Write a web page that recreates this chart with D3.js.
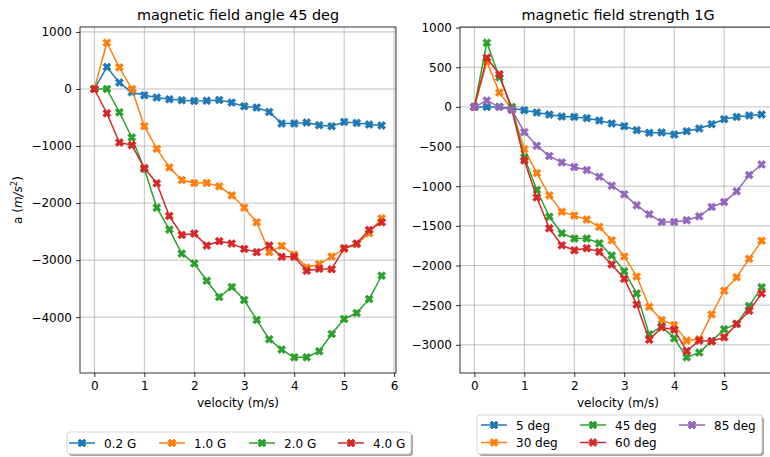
<!DOCTYPE html>
<html>
<head>
<meta charset="utf-8">
<script src="https://cdn.jsdelivr.net/npm/d3@7"></script>
<style>
  html, body { margin: 0; padding: 0; background: #fff; overflow: hidden; }
  svg { display: block; font-family: "DejaVu Sans", sans-serif; }
</style>
</head>
<body>
<svg id="chart" width="770" height="457"></svg>
<script>
// Sampled velocities (m/s)
const velocity = [0, 0.25, 0.5, 0.75, 1, 1.25, 1.5, 1.75, 2, 2.25, 2.5, 2.75,
                  3, 3.25, 3.5, 3.75, 4, 4.25, 4.5, 4.75, 5, 5.25, 5.5, 5.75];

// Acceleration at field angle 45 deg, by field strength
const field02G = [0, 385, 112, -58, -110, -151, -180, -198, -210, -204, -192, -239,
                  -302, -326, -402, -605, -605, -588, -634, -652, -577, -594, -623, -640];
const field10G = [0, 811, 379, 0, -652, -1049, -1375, -1596, -1649, -1649, -1707, -1864,
                  -2080, -2336, -2860, -2750, -2907, -3129, -3070, -2937, -2803, -2721, -2528, -2266];
const field20G = [0, 0, -408, -850, -1404, -2080, -2465, -2885, -3059, -3362, -3647, -3472,
                  -3700, -4049, -4388, -4568, -4703, -4703, -4598, -4294, -4032, -3927, -3682, -3274];
const field40G = [0, -425, -937, -984, -1386, -1654, -2226, -2558, -2535, -2745, -2668, -2710,
                  -2803, -2860, -2745, -2942, -2942, -3187, -3152, -3158, -2791, -2710, -2470, -2336];

// Acceleration at field strength 1G, by field angle
const angle5  = [0, 0, 0, -21, -42, -71, -97, -122, -126, -142, -172, -210,
                 -243, -293, -327, -323, -348, -306, -273, -218, -155, -126, -109, -97];
const angle30 = [0, 570, 180, -30, -532, -834, -1116, -1321, -1371, -1421, -1513, -1682,
                 -1887, -2138, -2520, -2688, -2751, -2947, -2931, -2616, -2318, -2147, -1916, -1689];
const angle45 = [0, 809, 373, 0, -638, -1048, -1385, -1594, -1660, -1660, -1720, -1874,
                 -2072, -2352, -2868, -2767, -2918, -3157, -3098, -2952, -2805, -2734, -2512, -2273];
const angle60 = [0, 620, 411, -38, -675, -1141, -1531, -1745, -1808, -1782, -1828, -1987,
                 -2168, -2491, -2935, -2780, -2809, -3078, -2947, -2956, -2906, -2738, -2570, -2352];
const angle85 = [0, 79, 0, -38, -318, -491, -620, -700, -759, -797, -880, -994,
                 -1103, -1241, -1355, -1451, -1451, -1430, -1380, -1262, -1200, -1065, -859, -726];

const leftLabels  = ["0.2 G", "1.0 G", "2.0 G", "4.0 G"];
const rightLabels = ["5 deg", "30 deg", "45 deg", "60 deg", "85 deg"];
const leftYTicks  = [-4000, -3000, -2000, -1000, 0, 1000];
const rightYTicks = [-3000, -2500, -2000, -1500, -1000, -500, 0, 500, 1000];
const leftXTicks  = [0, 1, 2, 3, 4, 5, 6];
const rightXTicks = [0, 1, 2, 3, 4, 5];

const palette = ["#1f77b4", "#ff7f0e", "#2ca02c", "#d62728", "#9467bd"];

const svg = d3.select("#chart");
const minus = s => String(s).replace("-", "\u2212");

// Filled "X" marker path, unit size centred at origin
const xMarkerPts = [[-0.25,-0.5],[0,-0.25],[0.25,-0.5],[0.5,-0.25],[0.25,0],[0.5,0.25],
                    [0.25,0.5],[0,0.25],[-0.25,0.5],[-0.5,0.25],[-0.25,0],[-0.5,-0.25]];
function xMarker(size) {
  return "M" + xMarkerPts.map(p => (p[0]*size).toFixed(2) + "," + (p[1]*size).toFixed(2)).join("L") + "Z";
}
const MARK = xMarker(8);

function padded(lo, hi) {
  const m = (hi - lo) * 0.05;
  return [lo - m, hi + m];
}

function panel(opts) {
  const { left, right, top, bottom, series, title, yTicks, xTicks, ylabel } = opts;
  const g = svg.append("g");
  const all = series.flat();
  const x = d3.scaleLinear().domain(padded(d3.min(velocity), d3.max(velocity))).range([left, right]);
  const y = d3.scaleLinear().domain(padded(d3.min(all), d3.max(all))).range([bottom, top]);

  // grid
  const grid = g.append("g").attr("stroke", "#b0b0b0").attr("stroke-width", 0.8);
  xTicks.forEach(t => grid.append("line").attr("x1", x(t)).attr("x2", x(t)).attr("y1", top).attr("y2", bottom));
  yTicks.forEach(t => grid.append("line").attr("x1", left).attr("x2", right).attr("y1", y(t)).attr("y2", y(t)));

  // series
  const line = d3.line().x((d, i) => x(velocity[i])).y(d => y(d));
  series.forEach((s, k) => {
    const c = palette[k];
    const sg = g.append("g");
    sg.append("path").attr("d", line(s)).attr("fill", "none").attr("stroke", c).attr("stroke-width", 1.5)
      .attr("stroke-linejoin", "round");
    sg.selectAll("path.m").data(s).enter().append("path").attr("class", "m")
      .attr("d", MARK)
      .attr("transform", (d, i) => `translate(${x(velocity[i])},${y(d)})`)
      .attr("fill", c).attr("stroke", c).attr("stroke-width", 0.8).attr("stroke-linejoin", "miter");
  });

  // axes
  const xAxis = d3.axisBottom(x).tickValues(xTicks).tickSize(4).tickPadding(4).tickFormat(d3.format("d"));
  const yAxis = d3.axisLeft(y).tickValues(yTicks).tickSize(4).tickPadding(4).tickFormat(d => minus(d));
  const xa = g.append("g").attr("transform", `translate(0,${bottom})`).call(xAxis);
  const ya = g.append("g").attr("transform", `translate(${left},0)`).call(yAxis);
  [xa, ya].forEach(a => {
    a.select(".domain").remove();
    a.selectAll("text").attr("font-size", 12).attr("fill", "#000").attr("font-family", "DejaVu Sans");
    a.selectAll("line").attr("stroke", "#000").attr("stroke-width", 0.8);
  });

  // frame
  g.append("rect").attr("x", left).attr("y", top).attr("width", right - left).attr("height", bottom - top)
    .attr("fill", "none").attr("stroke", "#000").attr("stroke-width", 0.8);

  // title and x label
  g.append("text").attr("x", (left + right) / 2).attr("y", 20).attr("text-anchor", "middle")
    .attr("font-size", 14.4).text(title);
  g.append("text").attr("x", (left + right) / 2).attr("y", 407).attr("text-anchor", "middle")
    .attr("font-size", 12).text("velocity (m/s)");

  if (ylabel) {
    const t = g.append("text").attr("transform", `translate(22,${(top + bottom) / 2}) rotate(-90)`)
      .attr("text-anchor", "middle").attr("font-size", 12);
    t.append("tspan").text("a (");
    t.append("tspan").attr("font-style", "italic").text("m/s");
    t.append("tspan").attr("font-size", 8.5).attr("dy", -5).text("2");
    t.append("tspan").attr("dy", 5).text(")");
  }
  return { x, y };
}

panel({ left: 80, right: 396, top: 27, bottom: 373,
        series: [field02G, field10G, field20G, field40G],
        title: "magnetic field angle 45 deg", yTicks: leftYTicks, xTicks: leftXTicks, ylabel: true });
panel({ left: 460, right: 776, top: 27, bottom: 373,
        series: [angle5, angle30, angle45, angle60, angle85],
        title: "magnetic field strength 1G", yTicks: rightYTicks, xTicks: rightXTicks, ylabel: false });

// legends
function legend(box, entries) {
  const g = svg.append("g");
  g.append("rect").attr("x", box.x + 2).attr("y", box.y + 2).attr("width", box.w).attr("height", box.h)
    .attr("rx", 3).attr("fill", "#000").attr("opacity", 0.35);
  g.append("rect").attr("x", box.x).attr("y", box.y).attr("width", box.w).attr("height", box.h)
    .attr("rx", 3).attr("fill", "#fff").attr("stroke", "#cccccc").attr("stroke-width", 0.8);
  entries.forEach(e => {
    g.append("line").attr("x1", e.x).attr("x2", e.x + 26).attr("y1", e.y).attr("y2", e.y)
      .attr("stroke", palette[e.k]).attr("stroke-width", 1.5);
    g.append("path").attr("d", MARK).attr("transform", `translate(${e.x + 13},${e.y})`)
      .attr("fill", palette[e.k]).attr("stroke", palette[e.k]).attr("stroke-width", 0.8);
    g.append("text").attr("x", e.x + 35).attr("y", e.y + 4.5).attr("font-size", 12).text(e.label);
  });
}

legend({ x: 67, y: 432, w: 344, h: 22 },
  leftLabels.map((l, i) => ({ label: l, k: i, x: [69, 159, 249, 338][i], y: 443 })));

const rightCols = [481, 580, 679];
const rightRows = [425, 442.5];
legend({ x: 477, y: 415, w: 285, h: 39 },
  rightLabels.map((l, i) => ({ label: l, k: i, x: rightCols[Math.floor(i / 2)], y: rightRows[i % 2] })));
</script>
</body>
</html>
